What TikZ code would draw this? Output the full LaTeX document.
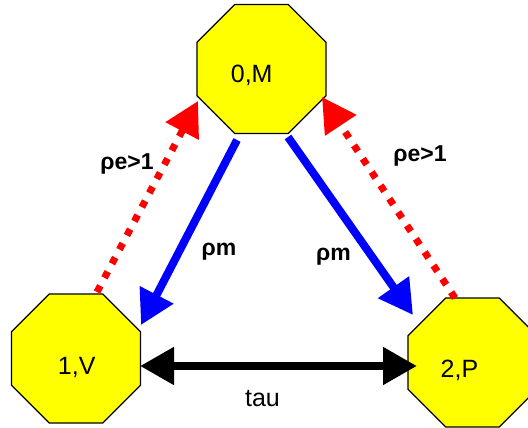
\documentclass[tikz,border=0pt]{standalone}
\usepackage{fontspec}
\setmainfont{Liberation Sans}
\usetikzlibrary{shapes.geometric,arrows.meta}
\definecolor{octyellow}{RGB}{255,255,0}
\definecolor{arrblue}{RGB}{0,0,255}
\definecolor{arrred}{RGB}{255,0,0}
\begin{document}
\begin{tikzpicture}[x=1pt,y=-1pt,
  octa/.style={regular polygon, regular polygon sides=8, minimum size=139.6pt, inner sep=0pt, draw=black, line width=1.2pt, fill=octyellow},
  statelabel/.style={font=\fontsize{25}{30}\selectfont, anchor=base, inner sep=0pt},
  edgelabel/.style={font=\fontsize{23}{27}\selectfont\bfseries, anchor=base, inner sep=0pt},
  bigtip/.tip={Triangle[length=34pt,width=36pt]},
  bluearrow/.style={draw=arrblue, line width=8pt, -bigtip},
  redarrow/.style={draw=arrred, line width=7pt, dash pattern=on 7pt off 9pt, -bigtip},
  blackarrow/.style={draw=black, line width=8pt, bigtip-bigtip}
]
\useasboundingbox (0,0) rectangle (528,428);
% states
\node[octa] (T) at (261.5,69) {};
\node[octa] (V) at (76,358.5) {};
\node[octa] (P) at (472.5,362.5) {};
\node[statelabel] (tM) at (251.7,82.7) {0,M};
\node[statelabel] (tV) at (76.7,374.3) {1,V};
\node[statelabel] (tP) at (459.5,377.7) {2,P};
% connectors
\draw[bluearrow] ([shift={(-24.5,71)}]T.center) -- ([shift={(65,-33.5)}]V.center);
\draw[bluearrow] ([shift={(26.5,68)}]T.center) -- ([shift={(-59.5,-47.5)}]P.center);
\draw[redarrow] ([shift={(21,-66.5)}]V.center) -- ([shift={(-63.5,32)}]T.center);
\draw[redarrow] ([shift={(-17.5,-64.5)}]P.center) -- ([shift={(60.5,28)}]T.center);
\draw[blackarrow] ([shift={(64,7.5)}]V.center) -- ([shift={(-55.5,3.5)}]P.center);
% labels
\node[edgelabel] (le1) at (127,169) {ρe>1};
\node[edgelabel] (le2) at (420,161.7) {ρe>1};
\node[edgelabel] (lm1) at (219,255) {ρm};
\node[edgelabel] (lm2) at (333.5,260) {ρm};
\node[statelabel] (ltau) at (262.5,406.7) {tau};
\end{tikzpicture}
\end{document}
